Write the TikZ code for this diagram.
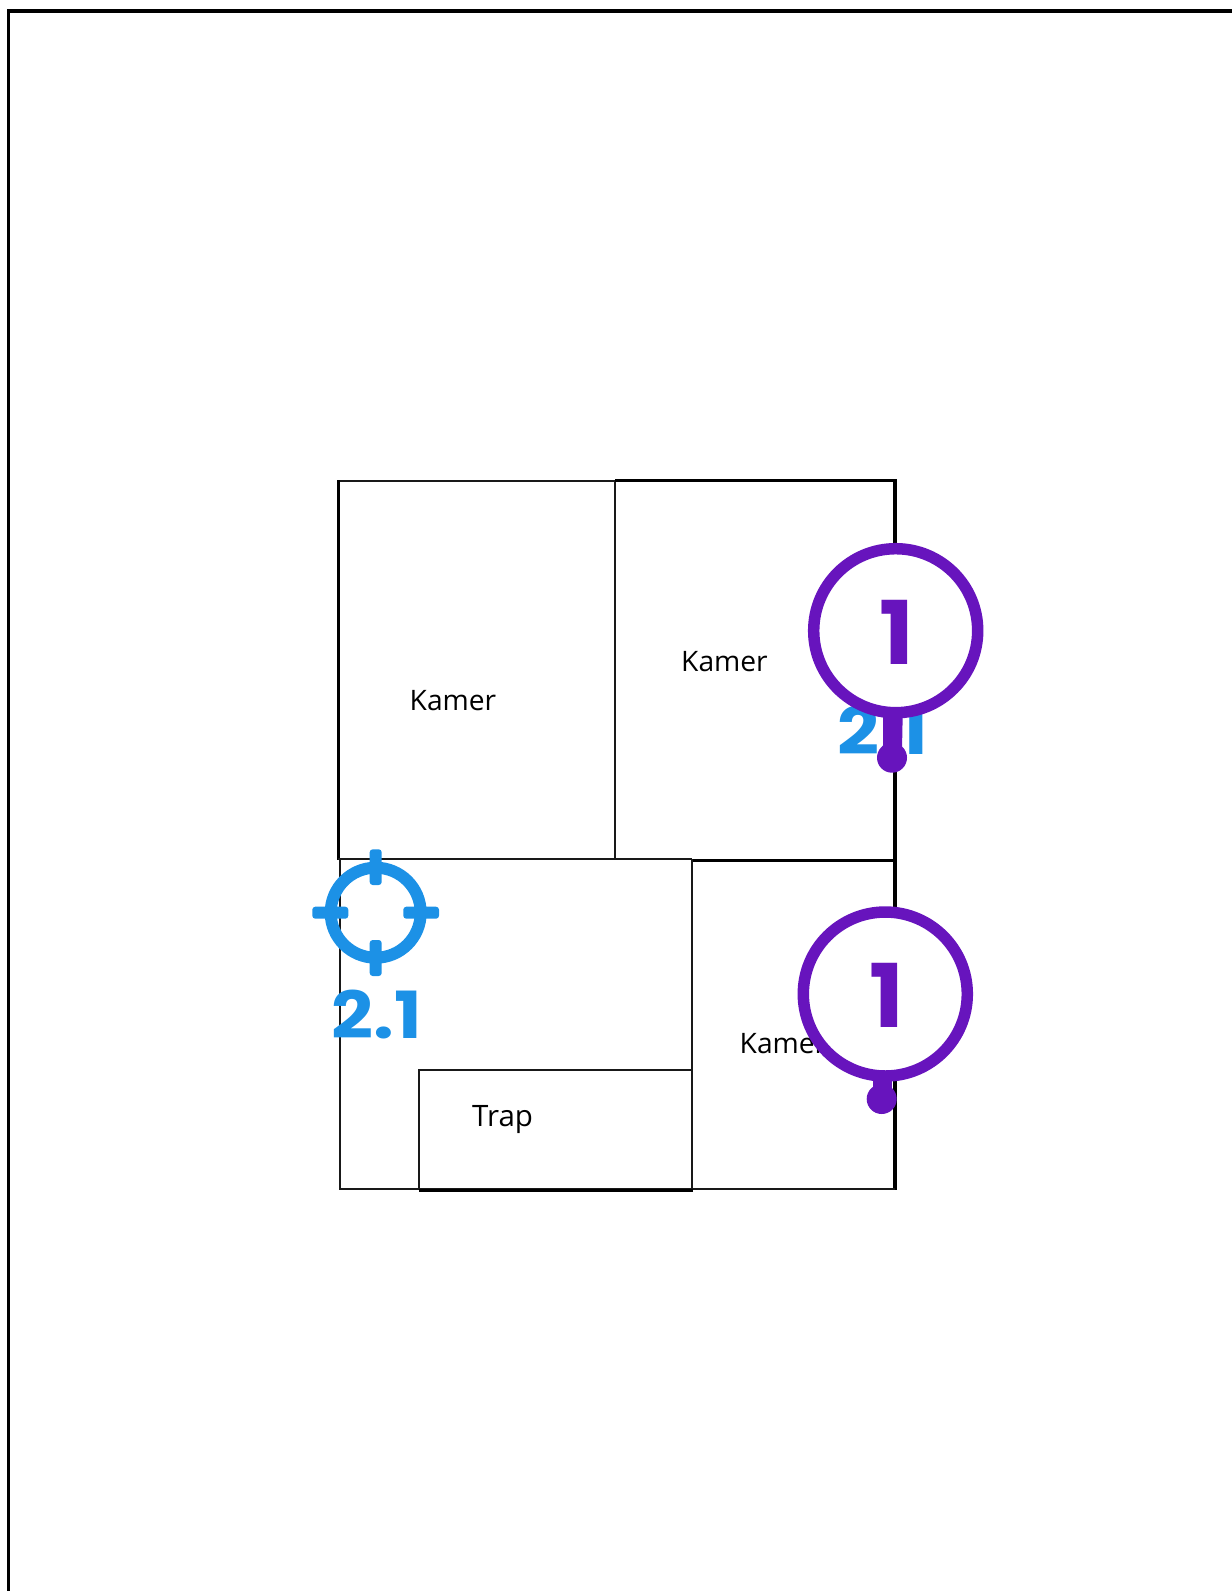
\documentclass[tikz,border=0pt]{standalone}
\usepackage{fontspec}
\setmainfont{Open Sans}
\newfontfamily\markfont[FakeStretch=1.13]{Poppins}
\newfontfamily\pinfont[FakeStretch=1.05]{Poppins}
\definecolor{pinpurple}{HTML}{6714BD}
\definecolor{markblue}{HTML}{1C91E6}
\tikzset{
  thinwall/.style={draw=black!90,line width=2pt},
  thickwall/.style={draw=black,line width=3.2pt},
  roomlabel/.style={anchor=base west,inner sep=0pt,text=black,font=\fontsize{28.2}{30}\selectfont},
  traplabel/.style={anchor=base west,inner sep=0pt,text=black,font=\fontsize{29.5}{31}\selectfont},
  bluelabel/.style={anchor=base,inner sep=0pt,text=markblue,font=\markfont\fontsize{65}{70}\selectfont\bfseries},
  pinring/.style={draw=pinpurple,fill=white,line width=11.5pt},
  pinnum/.style={anchor=base,inner sep=0pt,text=pinpurple,font=\pinfont\fontsize{88}{96}\selectfont\bfseries},
  tick/.style={fill=markblue,rounded corners=3pt}
}
\begin{document}
\begin{tikzpicture}[x=1pt,y=-1pt]
\useasboundingbox (0,0) rectangle (1232,1591);
% page frame
\draw[line width=3.2pt] (1232,11) -- (8.5,11) -- (8.5,1591);
% walls
\draw[thinwall] (338,481.3) -- (615.3,481.3);
\draw[thickwall] (338.7,480) -- (338.7,860);
\draw[thinwall] (615.3,480) -- (615.3,859);
\draw[thickwall] (615,480.3) -- (895,480.3) -- (895,1190);
\draw[thinwall] (338,858.9) -- (692,858.9);
\draw[thickwall] (692,860.3) -- (895,860.3);
\draw[thinwall] (692,859) -- (692,1190);
\draw[thinwall] (339.7,859) -- (339.7,1189.3) -- (895,1189.3);
\draw[thinwall] (692,1070) -- (419.3,1070) -- (419.3,1190);
\draw[thickwall] (418.5,1190.3) -- (692.5,1190.3);
% room labels
\node[roomlabel] (k1) at (409.5,710.5) {Kamer};
\node[roomlabel] (k2) at (681,671.5) {Kamer};
\node[roomlabel] (k3) at (739.5,1053.5) {Kamer};
\node[traplabel] (t1) at (472,1126) {Trap};
% target
\draw[markblue,line width=12pt] (375.7,912.7) circle (45);
\fill[tick] (312.3,906.7) rectangle (348.3,918.7);
\fill[tick] (403.3,906.7) rectangle (439,918.7);
\fill[tick] (369.7,849.3) rectangle (381.7,885);
\fill[tick] (369.7,940) rectangle (381.7,976);
\node[bluelabel] (l1) at (377,1038) {2.1};
\node[bluelabel] (l2) at (882.5,754) {2.1};
% pins
\fill[pinpurple] (883,700) -- (903,700) -- (902,750) -- (883,750) -- cycle;
\fill[pinpurple] (892,757.7) circle (15);
\node[pinring,circle,minimum size=164pt,inner sep=0pt] (p1) at (895.7,630.7) {};
\node[pinnum] (n1) at (897,664) {1};
\fill[pinpurple] (872.5,1070) rectangle (892,1092);
\fill[pinpurple] (881.7,1099) circle (15);
\node[pinring,circle,minimum size=164pt,inner sep=0pt] (p2) at (885.3,994) {};
\node[pinnum] (n2) at (886.5,1027) {1};
\end{tikzpicture}
\end{document}
